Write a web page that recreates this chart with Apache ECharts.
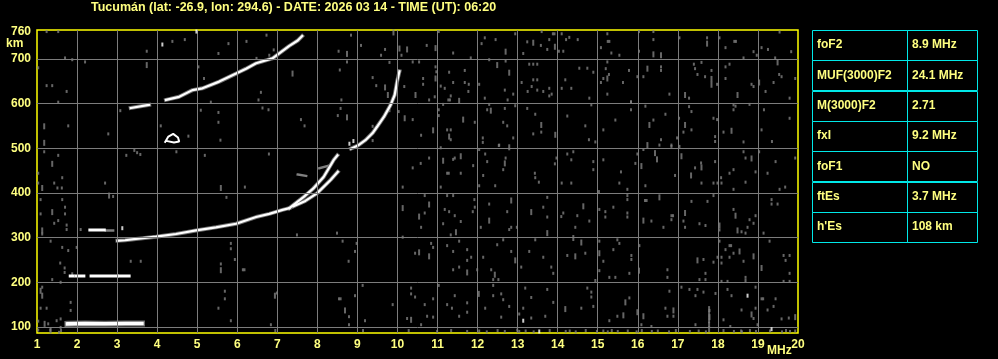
<!DOCTYPE html>
<html><head><meta charset="utf-8">
<script src="https://cdn.jsdelivr.net/npm/echarts@6/dist/echarts.min.js"></script>
<style>html,body{margin:0;padding:0;background:#000}#c{width:998px;height:359px}</style>
</head><body><div id="c"></div>
<script>
const titleText = 'Tucumán (lat: -26.9, lon: 294.6) - DATE: 2026 03 14 - TIME (UT): 06:20';
const gridFreqs = [2,3,4,5,6,7,8,9,10,11,12,13,14,15,16,17,18,19];
const gridHeights = [100,200,300,400,500,600,700];
const heightLabels = [100,200,300,400,500,600,700,760];
const tableLabels = ['foF2','MUF(3000)F2','M(3000)F2','fxI','foF1','ftEs',"h'Es"];
const tableValues = ['8.9 MHz','24.1 MHz','2.71','9.2 MHz','NO','3.7 MHz','108 km'];

// echo traces [MHz, km]
const esTrace = [[1.76,107],[2.2,108],[2.7,107],[3.2,108],[3.62,108]];
const es2Segments = [[[1.83,214],[1.9,214]],[[1.97,214],[2.17,214]],[[2.35,214],[3.0,214]],[[3.06,214],[3.3,214]]];
const shortTrace = [[2.32,317],[2.68,317]];
const fLower = [[3.01,293],[3.2,294],[3.47,297],[3.97,302],[4.47,308],[4.97,316],[5.47,323],[5.97,331],[6.47,346],[6.8,353],[7.13,362],[7.3,366]];
const branchA = [[7.3,366],[7.66,391],[7.9,410],[8.16,436],[8.41,474],[8.5,484]];
const branchB = [[7.4,370],[7.7,382],[7.99,399],[8.33,429],[8.51,447]];
const fUpper = [[8.84,499],[9.01,506],[9.2,518],[9.38,534],[9.49,548],[9.66,570],[9.83,597],[9.93,619],[9.99,649],[10.05,672]];
const multiHop1 = [[3.34,590],[3.8,597]];
const multiHop2 = [[4.22,608],[4.55,615],[4.88,630],[5.13,634],[5.55,649],[5.97,667],[6.22,678],[6.47,690],[6.88,701],[7.09,715],[7.3,729],[7.51,741],[7.62,751]];
const loopTrace = [[4.2,514],[4.28,526],[4.4,532],[4.52,524],[4.55,515],[4.42,513],[4.25,516]];
const graySegments = [[[2.72,316],[2.9,316]],[[7.51,441],[7.72,438]],[[8.05,455],[8.33,462]]];

// noise dots
const noiseDots = [[11.03,761],[10.73,730],[11.39,713],[11.83,702],[12.1,734],[12.18,747],[12.45,743],[12.94,756],[13.14,712],[13.24,738],[13.6,761],[13.58,730],[13.74,721],[13.79,743],[13.88,756],[13.92,756],[14.1,756],[14.03,717],[14.14,717],[14.21,743],[14.29,748],[14.5,743],[15.08,725],[15.25,739],[15.29,739],[15.24,756],[15.34,713],[15.54,708],[16.03,717],[16.03,761],[16.39,761],[16.39,743],[17.04,747],[17.73,747],[18.04,747],[18.19,725],[18.41,739],[18.45,739],[18.64,702],[18.89,716],[19.09,725],[18.97,708],[19.25,721],[19.43,702],[19.54,760],[19.83,716],
[10.54,693],[10.64,656],[10.64,643],[10.95,682],[10.97,671],[10.93,615],[10.79,608],[11.08,639],[11.18,634],[11.29,670],[11.39,647],[11.33,617],[11.27,608],[11.31,608],[11.68,674],[11.68,647],[11.78,643],[11.77,627],[12.04,643],[12.18,612],[12.29,698],[12.7,695],[12.68,630],[12.75,608],[12.89,621],[13.1,647],[13.29,688],[13.39,688],[13.49,688],[13.39,653],[13.49,653],[13.25,627],[13.35,638],[13.49,630],[13.64,627],[13.79,634],[13.79,617],[13.85,621],[14.1,634],[14.19,653],[14.34,634],[14.54,679],[14.74,679],[14.89,670],[14.79,612],[15.14,656],[15.24,693],[15.28,665],[15.2,678],[15.08,647],[15.24,621],[15.63,647],[15.78,674],[15.83,604],[15.99,660],[16.14,660],[16.58,682],[16.58,674],[16.79,621],[17.28,612],[17.4,688],[17.43,678],[17.59,692],[17.49,665],[17.68,660],[17.84,674],[17.98,643],[18.19,682],[18.29,688],[18.19,656],[18.84,643],[18.89,638],[19.19,627],[19.39,647],[19.53,665],[19.59,660],[19.93,656],[19.79,612],
[11.03,586],[11.03,573],[11.14,598],[10.59,529],[11.24,541],[11.33,541],[11.33,519],[11.93,558],[12.13,523],[12.13,513],[12.24,586],[12.29,598],[12.53,506],[12.68,589],[12.64,558],[12.74,550],[12.89,523],[12.94,595],[13.24,589],[13.44,576],[13.39,532],[13.59,536],[14.24,572],[14.69,550],[14.78,519],[14.94,514],[14.84,597],[15.14,541],[15.44,563],[15.83,603],[15.83,586],[16.19,594],[16.39,563],[16.69,576],[16.58,519],[16.84,504],[16.98,523],[17.03,567],[17.14,536],[17.34,541],[17.28,593],[17.34,582],[17.89,567],[17.98,564],[18.14,536],[17.93,526],[17.93,515],[18.39,597],[18.44,594],[18.39,586],[18.64,514],[18.79,598],[19.09,541],[19.15,586],[19.35,515],[19.79,567],
[11.08,501],[10.58,466],[10.79,478],[11.24,444],[11.28,444],[11.39,475],[11.43,478],[11.58,444],[11.89,461],[12.04,497],[12.19,487],[12.24,470],[12.14,439],[12.54,507],[12.7,478],[12.64,452],[13.43,444],[13.44,434],[13.93,465],[13.97,478],[14.24,487],[14.39,492],[14.34,474],[14.89,470],[15.14,474],[14.89,452],[15.58,447],[15.94,466],[15.99,487],[16.14,497],[16.54,507],[16.84,507],[17.04,504],[16.93,439],[17.43,456],[17.58,467],[17.93,470],[18.08,434],[18.29,444],[18.39,452],[18.64,492],[18.69,478],[19.03,492],[18.94,447],[19.24,444],[19.44,470],[19.93,478],
[11.08,413],[12.04,416],[12.44,416],[13.53,424],[14.1,422],[14.34,422],[15.03,403],[15.54,422],[15.74,408],[16.19,416],[17.59,422],[17.89,422],[17.99,422],[18.09,422],[18.39,408],[18.69,424],[19.54,408],[19.68,413],
[10.68,394],[10.68,355],[10.59,323],[11.24,394],[11.39,394],[11.18,363],[11.29,358],[11.43,349],[11.58,336],[11.14,331],[11.33,306],[11.92,385],[11.93,368],[11.88,358],[12.08,323],[12.29,375],[12.74,358],[12.84,323],[12.79,318],[12.98,323],[13.64,368],[13.74,390],[13.74,346],[14.14,355],[14.09,347],[14.49,349],[14.44,323],[14.79,337],[15.04,363],[15.19,358],[15.19,346],[15.39,368],[15.74,394],[15.74,385],[15.74,355],[15.74,346],[16.18,383],[16.22,383],[16.34,337],[16.64,323],[16.84,349],[16.88,349],[16.84,340],[17.14,337],[17.34,381],[17.18,323],[17.54,331],[17.69,327],[17.74,381],[17.89,394],[18.04,317],[18.39,363],[18.59,313],[18.69,310],[18.74,323],[18.79,340],[18.89,332],[18.94,349],[19.14,310],[19.34,385],[19.34,375],[19.49,375],
[10.84,287],[10.89,278],[11.24,282],[11.39,269],[11.54,292],[11.54,234],[11.39,228],[11.74,273],[11.74,249],[11.84,256],[11.99,228],[12.14,256],[12.34,228],[12.39,206],[12.52,206],[12.49,284],[12.64,295],[12.84,269],[13.09,234],[13.29,269],[13.44,295],[13.64,256],[13.84,234],[13.89,220],[14.24,260],[14.69,265],[15.04,292],[15.04,226],[14.94,204],[15.14,247],[15.29,211],[15.44,211],[15.39,273],[15.49,295],[15.54,287],[15.84,260],[15.84,251],[15.79,220],[16.04,282],[16.74,228],[16.74,211],[17.64,251],[17.69,220],[17.69,206],[17.54,206],[17.89,245],[17.99,256],[18.09,256],[18.09,243],[18.04,292],[18.19,273],[18.29,282],[18.33,282],[18.39,265],[18.29,256],[18.64,247],[18.69,211],[18.69,204],[18.09,202],[18.24,202],[19.29,292],[19.64,260],[19.79,260],[19.69,249],[19.79,220],[19.64,202],[19.79,202],
[11.03,193],[10.89,163],[10.68,150],[10.74,124],[10.89,122],[10.59,105],[11.24,150],[11.43,170],[11.36,142],[11.74,154],[11.74,133],[11.54,124],[12.19,142],[12.39,193],[12.39,170],[12.59,174],[12.64,161],[12.59,122],[12.79,146],[13.04,129],[13.19,187],[13.34,166],[13.14,142],[13.34,120],[13.74,184],[13.69,124],[13.89,155],[14.59,142],[14.74,187],[14.84,178],[14.84,167],[14.89,146],[15.29,114],[15.49,124],[15.79,165],[16.09,105],[16.34,101],[16.69,142],[16.79,180],[16.89,124],[16.74,124],[17.09,189],[17.29,184],[17.49,184],[17.44,170],[17.64,178],[17.44,105],[17.79,137],[17.94,175],[18.24,184],[18.34,170],[18.59,138],[18.94,189],[18.94,142],[18.89,119],[18.99,105],[19.09,163],[19.13,163],[19.24,138],[19.39,146],[19.44,163],[19.59,118],[19.77,120],[18.14,116],[18.31,101],
[10.99,90],[11.34,92],[11.74,90],[12.04,91],[12.23,89],[12.5,92],[12.68,90],[12.99,93],[13.04,90],[13.2,91],[13.4,89],[13.8,92],[14.2,90],[14.3,91],[14.45,89],[14.7,92],[14.98,90],[15.14,91],[15.25,89],[15.35,92],[15.5,90],[15.75,91],[15.97,89],[16.1,92],[16.35,90],[16.5,91],[16.78,89],[16.95,92],[17.3,90],[17.52,91],[17.7,89],[18.14,92],[18.4,90],[18.58,91],[18.6,89],[18.8,92],[18.95,90],[19.3,91],[19.6,89],[19.7,92],[19.8,90],[19.93,91],
[1.24,761],[1.53,761],[1.03,680],[1.7,702],[1.88,698],[2.2,693],[1.24,640],[1.38,640],[1.74,627],[1.53,603],[1.78,550],[1.53,484],[1.03,444],[1.63,434],[1.18,492],[2.78,532],[3.08,584],[3.23,484],[3.43,495],[3.5,490],[3.58,486],[3.74,717],[4.38,739],[4.69,743],[4.09,550],[4.48,492],[4.78,527],[5.09,585],[5.19,484],[5.17,656],[5.03,682],[5.34,603],[5.53,712],[5.78,734],[5.53,580],[5.58,518],[5.53,558],[6.23,739],[6.48,701],[6.59,625],[6.53,608],[6.63,590],[6.78,586],[6.73,753],[6.79,487],[6.8,708],[6.91,720],[7.59,564],[7.68,550],[8.53,717],[8.74,693],[8.56,675],[8.84,753],[9.09,730],[8.6,608],[8.58,589],[8.51,573],[9.38,658],[9.47,640],[9.59,708],[9.69,721],[9.8,692],[10.1,708],[10.38,693],[10.17,638],[10.38,564],[10.38,456],[10.03,582],[9.8,584],[9.38,549],[9.38,517],
[1.03,422],[1.43,422],[1.51,411],[1.62,411],[1.09,385],[1.09,353],[1.63,385],[1.53,338],[1.43,332],[1.7,368],[1.7,353],[1.74,328],[1.74,318],[1.13,308],[1.34,292],[1.63,278],[1.78,271],[1.99,278],[1.58,243],[1.69,232],[1.69,222],[1.38,206],[1.59,200],[1.88,219],[2.09,318],[2.7,422],[2.9,392],[1.13,189],[1.09,142],[1.24,142],[1.59,118],[1.84,137],[1.84,155],[1.49,114],[1.03,113],[1.28,107],[1.03,93],[1.55,88],[1.59,99],[3.34,247],[3.59,247],[5.73,390],[6.19,413],[5.84,287],[5.84,275],[5.94,251],[5.59,241],[6.14,228],[6.18,228],[5.69,180],[5.69,163],[5.53,142],[5.84,114],[6.84,105],[6.99,176],[6.95,92],[7.49,306],[8.49,310],[8.63,292],[8.98,287],[8.94,269],[8.78,247],[9.13,193],[8.94,170],[8.79,123],[8.79,105],[8.54,163],[8.58,163],[9.19,114],[9.14,92],[9.88,150],[10.13,413],[10.13,301],[10.44,265],[10.34,187],[10.34,174],[10.44,167],[10.24,119],[10.28,92],[1.33,93],[1.6,92]];
const noiseTall = [[10.95,724],[12.7,716],[13.39,736],[13.93,727],[16.39,710],[16.58,708],[17.73,734],[10.95,656],[11.54,606],[12.49,686],[12.79,669],[15.24,656],[16.24,678],[17.18,619],[17.84,655],[17.84,642],[18.49,619],[19.03,647],[19.49,692],[10.89,540],[11.29,526],[11.64,564],[12.33,584],[12.79,502],[13.59,552],[13.94,530],[16.29,552],[17.18,552],[18.34,539],[11.14,472],[11.58,482],[12.68,466],[16.09,460],[16.24,507],[16.43,489],[16.48,475],[17.09,482],[17.33,439],[17.59,457],[18.84,477],
[10.79,374],[10.54,347],[11.46,312],[12.29,338],[12.84,383],[13.34,357],[13.74,310],[14.64,370],[16.14,338],[16.54,390],[17.18,355],[18.04,327],[18.44,349],[18.49,316],
[10.54,267],[10.79,258],[11.74,222],[12.43,217],[12.94,249],[14.39,299],[14.44,258],[14.59,289],[15.04,265],[16.03,226],[17.49,249],[18.54,269],[18.89,258],[19.09,232],
[12.03,174],[14.19,140],[15.64,126],[15.69,155],[15.99,133],[16.14,124],[16.89,137],[17.79,122],[18.84,128],[19.93,122],[17.78,95],[17.78,105],[17.78,115],[17.78,128],[17.78,140],
[1.18,549],[1.18,512],[1.38,465],[3.74,686],[7.38,667],[8.74,711],[8.74,569],[9.69,636],[9.9,759],[10.05,723],[10.24,721],[10.18,567],[10.45,619],[9.76,619],
[1.13,411],[1.38,357],[1.13,316],[2.8,394],[1.09,181],[1.13,170],[1.19,107],[1.34,92],[5.59,411],[5.59,227],[6.94,170],[8.69,137],[10.13,366],[10.34,116]];
const whiteDots = [[13.14,114],[13.54,90],[18.74,170],[19.34,95],[4.13,732],[4.98,761],[3.13,321],[8.8,510],[8.9,516]];

const YEL = '#ffff80';
const chart = echarts.init(document.getElementById('c'), null, {renderer:'canvas'});
const font = 'Liberation Sans, Arial, sans-serif';

function lineSeries(data, color, width, z) {
  return {type:'line', data:data, showSymbol:false, symbol:'none', smooth:false, silent:true, z:z||4,
    lineStyle:{color:color, width:width, cap:'square'}, animation:false};
}
const series = [];
series.push({type:'line', data:[], silent:true, z:1, animation:false,
  markLine:{silent:true, symbol:['none','none'], animation:false, label:{show:false},
    lineStyle:{color:'#7c7c7c', width:1, type:'solid'},
    emphasis:{disabled:true},
    data: gridFreqs.map(v=>({xAxis:v})).concat(gridHeights.map(v=>({yAxis:v})))}});
series.push({type:'scatter', data:noiseDots, symbol:'rect', symbolSize:[2,3], itemStyle:{color:'#808080'}, silent:true, z:2, animation:false});
series.push({type:'scatter', data:noiseTall, symbol:'rect', symbolSize:[2,6], itemStyle:{color:'#808080'}, silent:true, z:2, animation:false});
series.push({type:'scatter', data:whiteDots, symbol:'rect', symbolSize:[2,4], itemStyle:{color:'#ffffff'}, silent:true, z:5, animation:false});
graySegments.forEach(s=>series.push(lineSeries(s,'#808080',2.5,3)));
// gray fringe under the main echoes
[esTrace, fLower, branchA, branchB, fUpper, multiHop1, multiHop2].forEach(s=>series.push(lineSeries(s,'#6f6f6f',s===esTrace?6:4,3)));
series.push(lineSeries(esTrace,'#ffffff',3.5));
es2Segments.forEach(s=>series.push(lineSeries(s,'#ffffff',3)));
series.push(lineSeries(shortTrace,'#ffffff',3));
[fLower, branchA, branchB, fUpper, multiHop1, multiHop2].forEach(s=>series.push(lineSeries(s,'#ffffff',2.2)));
series.push(lineSeries(loopTrace,'#ffffff',2));

const graphics = [];
graphics.push({type:'text', left:91, top:1, style:{text:titleText, fill:YEL, font:'bold 12.5px '+font}});
graphics.push({type:'text', left:6, top:38, style:{text:'km', fill:YEL, font:'bold 12px '+font}});
graphics.push({type:'text', left:767, top:345, style:{text:'MHz', fill:YEL, font:'bold 12px '+font}});
const tx0 = 812, tx1 = 907, tx2 = 977, ty0 = 30, rowH = 30.3;
tableLabels.forEach((lab,i)=>{
  const y = ty0 + i*rowH;
  graphics.push({type:'rect', shape:{x:tx0+0.5, y:Math.round(y)+0.5, width:tx1-tx0, height:Math.round(rowH)}, style:{fill:'none', stroke:'#00e8e8', lineWidth:1}});
  graphics.push({type:'rect', shape:{x:tx1+0.5, y:Math.round(y)+0.5, width:tx2-tx1, height:Math.round(rowH)}, style:{fill:'none', stroke:'#00e8e8', lineWidth:1}});
  graphics.push({type:'text', x:817, y:y+rowH/2, style:{text:lab, fill:YEL, font:'bold 12px '+font, verticalAlign:'middle'}});
  graphics.push({type:'text', x:912, y:y+rowH/2, style:{text:tableValues[i], fill:YEL, font:'bold 12px '+font, verticalAlign:'middle'}});
});

chart.setOption({
  animation:false,
  backgroundColor:'#000',
  grid:{left:37, right:200, top:30, bottom:26, show:true, borderColor:'#ffff00', borderWidth:1.5, backgroundColor:'#000'},
  xAxis:{type:'value', min:1, max:20, interval:1,
    axisLine:{show:false}, axisTick:{show:false}, splitLine:{show:false},
    axisLabel:{color:YEL, fontFamily:font, fontWeight:'bold', fontSize:12, margin:6, showMinLabel:true, showMaxLabel:true}},
  yAxis:{type:'value', min:86.5, max:764.5,
    axisLine:{show:false}, axisTick:{show:false}, splitLine:{show:false},
    axisLabel:{color:YEL, fontFamily:font, fontWeight:'bold', fontSize:12, margin:6, customValues:heightLabels}},
  graphic:graphics,
  series:series
});
</script></body></html>
